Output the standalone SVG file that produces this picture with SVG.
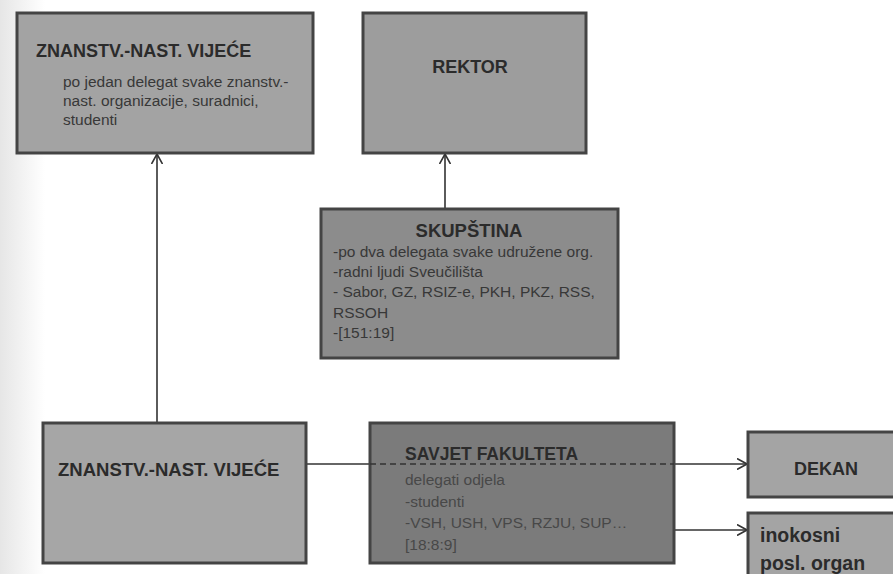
<svg xmlns="http://www.w3.org/2000/svg" width="893" height="574" viewBox="0 0 893 574">
<defs>
<linearGradient id="edge" x1="0" y1="0" x2="1" y2="0">
<stop offset="0" stop-color="#e6e6e6"/>
<stop offset="1" stop-color="#ffffff"/>
</linearGradient>
<marker id="arr" viewBox="0 0 10 12" refX="10" refY="6" markerWidth="10" markerHeight="12" markerUnits="userSpaceOnUse" orient="auto">
<path d="M0,0.5 L10,6 L0,11.5" fill="none" stroke="#333" stroke-width="1.6"/>
</marker>
</defs>
<style>
.box{stroke:#444;stroke-width:3}
.t{font-family:"Liberation Sans",Arial,sans-serif;font-weight:bold;fill:#2b2b2b}
.b{font-family:"Liberation Sans",Arial,sans-serif;font-size:15.5px;fill:#383838}
.c{fill:none;stroke:#333;stroke-width:1.6}
</style>
<rect x="0" y="0" width="893" height="574" fill="#ffffff"/>
<rect x="0" y="0" width="45" height="574" fill="url(#edge)"/>

<g id="connectors">
<line class="c" x1="157" y1="423" x2="157" y2="154" marker-end="url(#arr)"/>
<line class="c" x1="445" y1="209" x2="445" y2="154" marker-end="url(#arr)"/>
<line class="c" x1="306" y1="464" x2="370" y2="464"/>
<line class="c" x1="674" y1="464" x2="747" y2="464" marker-end="url(#arr)"/>
<line class="c" x1="674" y1="530" x2="747" y2="530" marker-end="url(#arr)"/>
</g>

<g id="zn-vijece-top">
<rect class="box" x="17" y="13" width="296" height="140" fill="#a3a3a3"/>
<text class="t" x="36" y="57" font-size="18">ZNANSTV.-NAST. VIJEĆE</text>
<text class="b" x="63" y="87">po jedan delegat svake znanstv.-</text>
<text class="b" x="63" y="106">nast. organizacije, suradnici,</text>
<text class="b" x="63" y="125">studenti</text>
</g>

<g id="rektor">
<rect class="box" x="363" y="13" width="223" height="140" fill="#9d9d9d"/>
<text class="t" x="470" y="73" font-size="18" text-anchor="middle">REKTOR</text>
</g>

<g id="skupstina">
<rect class="box" x="321" y="209" width="297" height="149" fill="#8c8c8c"/>
<text class="t" x="469" y="237" font-size="18.5" text-anchor="middle">SKUPŠTINA</text>
<text class="b" x="333" y="257">-po dva delegata svake udružene org.</text>
<text class="b" x="333" y="277">-radni ljudi Sveučilišta</text>
<text class="b" x="333" y="297">- Sabor, GZ, RSIZ-e, PKH, PKZ, RSS,</text>
<text class="b" x="333" y="318">RSSOH</text>
<text class="b" x="333" y="338">-[151:19]</text>
</g>

<g id="zn-vijece-bottom">
<rect class="box" x="43" y="423" width="263" height="140" fill="#a6a6a6"/>
<text class="t" x="58" y="476" font-size="18.5">ZNANSTV.-NAST. VIJEĆE</text>
</g>

<g id="savjet">
<rect class="box" x="370" y="423" width="304" height="140" fill="#7b7b7b"/>
<text class="t" x="405" y="460" font-size="17.5">SAVJET FAKULTETA</text>
<line x1="370" y1="464" x2="674" y2="464" stroke="#333" stroke-width="1.6" stroke-dasharray="6,4"/>
<text class="b" x="405" y="485" style="fill:#484848">delegati odjela</text>
<text class="b" x="405" y="507" style="fill:#484848">-studenti</text>
<text class="b" x="405" y="528" style="fill:#484848">-VSH, USH, VPS, RZJU, SUP…</text>
<text class="b" x="405" y="550" style="fill:#484848">[18:8:9]</text>
</g>

<g id="dekan">
<rect class="box" x="748" y="432" width="160" height="65" fill="#a4a4a4"/>
<text class="t" x="826" y="475" font-size="18" text-anchor="middle">DEKAN</text>
</g>

<g id="inokosni">
<rect class="box" x="748" y="513" width="160" height="80" fill="#a4a4a4"/>
<text class="t" x="760" y="542" font-size="19.5">inokosni</text>
<text class="t" x="760" y="570" font-size="19.5">posl. organ</text>
</g>
</svg>
